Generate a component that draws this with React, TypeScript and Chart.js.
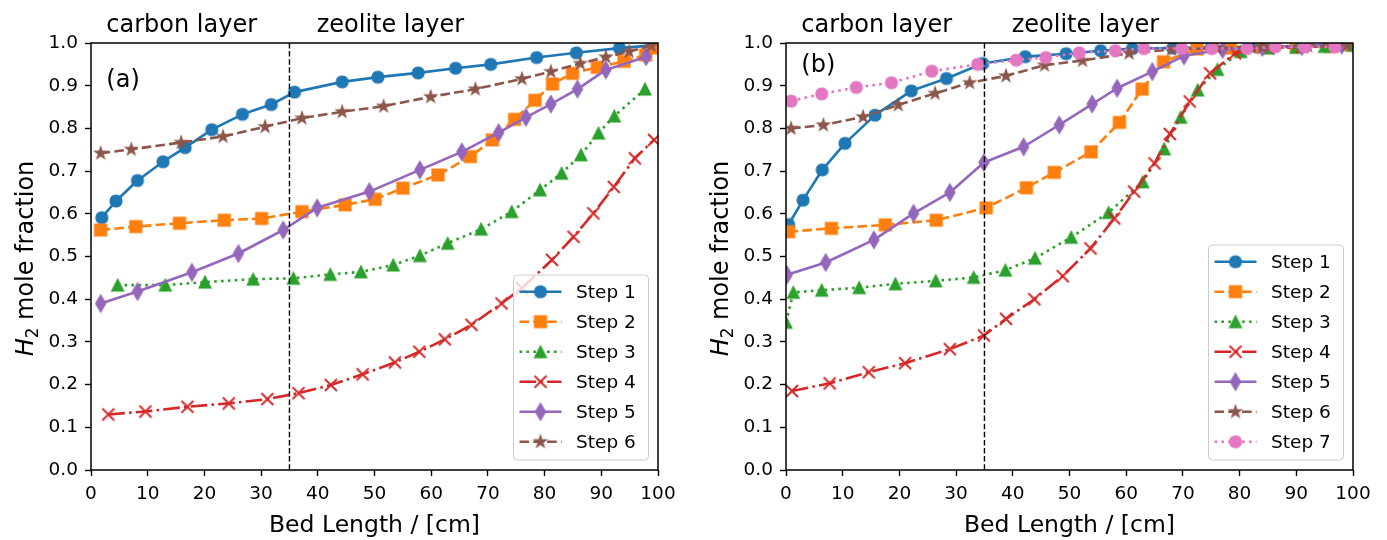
import React, { useEffect, useRef } from 'react';
import { Chart, registerables } from 'chart.js';

Chart.register(...registerables);

const FONT = '"DejaVu Sans", "Liberation Sans", sans-serif';
const COLORS = ['#1f77b4', '#ff7f0e', '#2ca02c', '#d62728', '#9467bd', '#8c564b', '#e377c2'];
const LABELS = ['Step 1', 'Step 2', 'Step 3', 'Step 4', 'Step 5', 'Step 6', 'Step 7'];
const MARKERS = ['circle', 'square', 'triangle', 'x', 'thinDiamond', 'star', 'circle'];
const DASHES: number[][] = [[], [9.6, 4.2], [2.6, 4.3], [16.6, 4.2, 2.6, 4.2], [], [9.6, 4.2], [2.6, 4.3]];
const X_TICKS = [0, 10, 20, 30, 40, 50, 60, 70, 80, 90, 100];
const Y_TICKS = [0, 0.1, 0.2, 0.3, 0.4, 0.5, 0.6, 0.7, 0.8, 0.9, 1.0];
const LAYER_BOUNDARY = 35;
const MS = 12;
const LW = 2.6;
const TEXT_SIZE = 24;
const TICK_SIZE = 18.5;

// ---------- Panel (a) ----------
const a1x = [1.9, 4.4, 8.2, 12.7, 16.6, 21.3, 26.7, 31.8, 35.9, 44.3, 50.6, 57.7, 64.3, 70.5, 78.6, 85.6, 93.2, 99.6];
const a1y = [0.591, 0.63, 0.678, 0.722, 0.755, 0.797, 0.833, 0.856, 0.885, 0.909, 0.92, 0.93, 0.941, 0.95, 0.966, 0.977, 0.988, 0.995];
const a2x = [1.7, 7.9, 15.6, 23.5, 30.1, 37.2, 44.8, 50.1, 55.0, 61.2, 66.9, 70.8, 74.7, 78.3, 81.4, 84.9, 89.3, 94.0, 97.8, 99.7];
const a2y = [0.562, 0.57, 0.578, 0.585, 0.589, 0.605, 0.621, 0.634, 0.66, 0.691, 0.734, 0.773, 0.821, 0.866, 0.904, 0.929, 0.943, 0.957, 0.972, 0.988];
const a3x = [4.7, 13.1, 20.1, 28.6, 35.7, 42.2, 47.6, 53.3, 58.0, 62.9, 68.8, 74.2, 79.2, 83.0, 86.4, 89.5, 92.3, 97.7];
const a3y = [0.433, 0.433, 0.44, 0.447, 0.449, 0.458, 0.464, 0.48, 0.502, 0.531, 0.564, 0.605, 0.656, 0.695, 0.738, 0.789, 0.829, 0.892];
const a4x = [3.05, 9.6, 17.0, 24.3, 31.1, 36.6, 42.3, 47.9, 53.6, 57.9, 62.4, 67.1, 72.4, 76.0, 81.3, 85.1, 88.6, 92.2, 95.9, 99.3];
const a4y = [0.13, 0.137, 0.148, 0.156, 0.166, 0.18, 0.199, 0.224, 0.252, 0.277, 0.306, 0.34, 0.39, 0.426, 0.492, 0.546, 0.601, 0.663, 0.73, 0.773];
const a5x = [1.7, 8.2, 17.8, 26.0, 33.9, 39.9, 49.1, 58.0, 65.4, 71.9, 76.7, 81.1, 85.8, 90.8, 97.9];
const a5y = [0.39, 0.418, 0.463, 0.507, 0.562, 0.614, 0.652, 0.703, 0.745, 0.79, 0.826, 0.857, 0.892, 0.937, 0.968];
const a6x = [1.7, 7.1, 15.9, 23.3, 30.7, 37.2, 44.3, 51.6, 59.9, 67.8, 76.0, 81.1, 86.3, 90.8, 94.9, 98.8];
const a6y = [0.742, 0.751, 0.767, 0.781, 0.804, 0.824, 0.839, 0.852, 0.874, 0.892, 0.916, 0.933, 0.952, 0.967, 0.98, 0.994];

// ---------- Panel (b) ----------
const b1x = [0.46, 3.0, 6.4, 10.4, 15.7, 22.1, 28.3, 34.7, 42.2, 49.4, 55.5, 61.1, 68.2, 75.0, 83.0, 90.0, 97.0];
const b1y = [0.575, 0.632, 0.703, 0.765, 0.831, 0.888, 0.917, 0.952, 0.968, 0.975, 0.982, 0.987, 0.988, 0.99, 0.991, 0.993, 0.995];
const b2x = [0.46, 8.0, 17.5, 26.5, 35.3, 42.4, 47.3, 53.8, 58.8, 62.8, 66.6, 72.5, 78.4, 84.0, 90.0, 96.0, 99.7];
const b2y = [0.558, 0.566, 0.574, 0.585, 0.614, 0.661, 0.697, 0.745, 0.814, 0.892, 0.956, 0.986, 0.988, 0.99, 0.991, 0.992, 0.995];
const b3x = [0.0, 1.3, 6.3, 12.9, 19.3, 26.4, 33.1, 38.7, 43.9, 50.3, 56.9, 62.9, 66.7, 69.6, 72.6, 76.1, 80.2, 85.0, 90.0, 95.0, 100.0];
const b3y = [0.346, 0.416, 0.421, 0.427, 0.436, 0.443, 0.451, 0.468, 0.496, 0.545, 0.603, 0.675, 0.752, 0.826, 0.89, 0.938, 0.98, 0.988, 0.99, 0.992, 0.995];
const b4x = [1.05, 7.7, 14.6, 21.0, 28.9, 34.9, 38.8, 43.8, 48.8, 53.7, 57.9, 61.4, 65.0, 67.7, 71.2, 74.8, 79.2, 85.0, 91.0, 97.0];
const b4y = [0.185, 0.203, 0.229, 0.25, 0.283, 0.315, 0.354, 0.4, 0.454, 0.519, 0.589, 0.652, 0.718, 0.787, 0.863, 0.929, 0.976, 0.988, 0.991, 0.994];
const b5x = [0.2, 7.0, 15.5, 22.5, 28.9, 34.9, 41.9, 48.2, 54.0, 58.4, 64.6, 70.2, 77.0, 84.0, 91.0, 98.0];
const b5y = [0.457, 0.486, 0.539, 0.601, 0.65, 0.72, 0.757, 0.808, 0.857, 0.894, 0.933, 0.97, 0.985, 0.99, 0.992, 0.995];
const b6x = [0.9, 6.6, 13.6, 19.8, 26.3, 32.4, 38.8, 45.6, 52.3, 60.5, 68.0, 76.0, 84.0, 92.0, 99.0];
const b6y = [0.8, 0.808, 0.827, 0.855, 0.882, 0.907, 0.923, 0.948, 0.959, 0.976, 0.985, 0.988, 0.991, 0.993, 0.995];
const b7x = [0.9, 6.3, 12.4, 18.6, 25.7, 33.8, 40.6, 45.8, 51.7, 58.1, 63.1, 69.8, 75.1, 81.3, 86.3, 91.5, 96.8];
const b7y = [0.864, 0.881, 0.896, 0.907, 0.934, 0.95, 0.96, 0.966, 0.977, 0.982, 0.987, 0.987, 0.987, 0.987, 0.991, 0.991, 0.991];

const SERIES_A = [[a1x, a1y], [a2x, a2y], [a3x, a3y], [a4x, a4y], [a5x, a5y], [a6x, a6y]];
const SERIES_B = [[b1x, b1y], [b2x, b2y], [b3x, b3y], [b4x, b4y], [b5x, b5y], [b6x, b6y], [b7x, b7y]];

function makeMarker(shape: string, color: string): HTMLCanvasElement {
  const size = 26;
  const cv = document.createElement('canvas');
  cv.width = size;
  cv.height = size;
  const ctx = cv.getContext('2d')!;
  const c = size / 2;
  const h = MS / 2;
  ctx.fillStyle = color;
  ctx.strokeStyle = color;
  ctx.lineWidth = 1.2;
  ctx.lineJoin = 'miter';
  ctx.beginPath();
  if (shape === 'circle') {
    ctx.arc(c, c, h, 0, Math.PI * 2);
  } else if (shape === 'square') {
    ctx.rect(c - h, c - h, MS, MS);
  } else if (shape === 'triangle') {
    ctx.moveTo(c, c - h);
    ctx.lineTo(c + h, c + h);
    ctx.lineTo(c - h, c + h);
    ctx.closePath();
  } else if (shape === 'thinDiamond') {
    const dh = MS * 0.7071;
    const dw = dh * 0.6;
    ctx.moveTo(c, c - dh);
    ctx.lineTo(c + dw, c);
    ctx.lineTo(c, c + dh);
    ctx.lineTo(c - dw, c);
    ctx.closePath();
  } else if (shape === 'star') {
    const R = h * 1.05;
    const r = R * 0.381966;
    for (let k = 0; k < 10; k++) {
      const rad = k % 2 === 0 ? R : r;
      const ang = -Math.PI / 2 + (k * Math.PI) / 5;
      const px = c + rad * Math.cos(ang);
      const py = c + rad * Math.sin(ang);
      if (k === 0) ctx.moveTo(px, py);
      else ctx.lineTo(px, py);
    }
    ctx.closePath();
  } else if (shape === 'x') {
    ctx.lineWidth = 1.9;
    ctx.moveTo(c - h, c - h);
    ctx.lineTo(c + h, c + h);
    ctx.moveTo(c - h, c + h);
    ctx.lineTo(c + h, c - h);
    ctx.stroke();
    return cv;
  }
  ctx.fill();
  ctx.stroke();
  return cv;
}

type PanelCfg = {
  series: number[][][];
  tag: string;
  tagY: number;
  canvasLeft: number;
  canvasWidth: number;
  axisWidth: number;
  rightPad: number;
  ylabelX: number;
};

function drawYLabel(ctx: CanvasRenderingContext2D, cx: number, cy: number) {
  ctx.save();
  ctx.translate(cx, cy);
  ctx.rotate(-Math.PI / 2);
  const fH = `italic ${TEXT_SIZE}px ${FONT}`;
  const fS = `${TEXT_SIZE * 0.7}px ${FONT}`;
  const fM = `${TEXT_SIZE}px ${FONT}`;
  ctx.font = fH;
  const wH = ctx.measureText('H').width;
  ctx.font = fS;
  const wS = ctx.measureText('2').width;
  ctx.font = fM;
  const wM = ctx.measureText(' mole fraction').width;
  const total = wH + wS + wM;
  let x = -total / 2;
  ctx.textAlign = 'left';
  ctx.textBaseline = 'alphabetic';
  ctx.fillStyle = '#000';
  ctx.font = fH;
  ctx.fillText('H', x, 0);
  x += wH;
  ctx.font = fS;
  ctx.fillText('2', x, 5);
  x += wS;
  ctx.font = fM;
  ctx.fillText(' mole fraction', x, 0);
  ctx.restore();
}

function makeOverlay(cfg: PanelCfg, markers: HTMLCanvasElement[]) {
  return {
    id: 'overlay',
    afterDraw(chart: any) {
      const ctx: CanvasRenderingContext2D = chart.ctx;
      const area = chart.chartArea;
      const xs = chart.scales.x;
      const ys = chart.scales.y;
      ctx.save();
      // vertical boundary
      const vx = xs.getPixelForValue(LAYER_BOUNDARY);
      ctx.strokeStyle = '#000';
      ctx.lineWidth = 1.4;
      ctx.setLineDash([5.5, 2.6]);
      ctx.beginPath();
      ctx.moveTo(vx, area.top);
      ctx.lineTo(vx, area.bottom);
      ctx.stroke();
      ctx.setLineDash([]);
      // frame
      ctx.lineWidth = 1.5;
      ctx.strokeRect(area.left, area.top, area.right - area.left, area.bottom - area.top);
      // annotations
      ctx.fillStyle = '#000';
      ctx.font = `${TEXT_SIZE}px ${FONT}`;
      ctx.textAlign = 'left';
      ctx.textBaseline = 'alphabetic';
      ctx.fillText('carbon layer', xs.getPixelForValue(2.7), area.top - 11.5);
      ctx.fillText('zeolite layer', xs.getPixelForValue(39.8), area.top - 11.5);
      ctx.fillText(cfg.tag, xs.getPixelForValue(2.7), ys.getPixelForValue(cfg.tagY));
      // x label
      ctx.textAlign = 'center';
      ctx.font = `23.5px ${FONT}`;
      ctx.fillText('Bed Length / [cm]', (area.left + area.right) / 2, 532);
      // y label
      drawYLabel(ctx, cfg.ylabelX, (area.top + area.bottom) / 2 + 2);
      // legend
      const n = cfg.series.length;
      const right = area.right - 9.5;
      const bottom = area.bottom - 10;
      const height = 5 + 30 * n;
      const width = 135;
      const left = right - width;
      const top = bottom - height;
      ctx.beginPath();
      (ctx as any).roundRect(left, top, width, height, 4);
      ctx.fillStyle = 'rgba(255,255,255,0.8)';
      ctx.fill();
      ctx.strokeStyle = '#cccccc';
      ctx.lineWidth = 1;
      ctx.stroke();
      for (let i = 0; i < n; i++) {
        const cy = top + 16.7 + 30 * i;
        ctx.strokeStyle = COLORS[i];
        ctx.lineWidth = LW;
        ctx.setLineDash(DASHES[i]);
        ctx.beginPath();
        ctx.moveTo(left + 6, cy);
        ctx.lineTo(left + 48, cy);
        ctx.stroke();
        ctx.setLineDash([]);
        const m = markers[i];
        ctx.drawImage(m, left + 27 - m.width / 2, cy - m.height / 2);
        ctx.fillStyle = '#000';
        ctx.font = `${TICK_SIZE}px ${FONT}`;
        ctx.textAlign = 'left';
        ctx.textBaseline = 'middle';
        ctx.fillText(LABELS[i], left + 62.5, cy + 1);
      }
      ctx.restore();
    },
  };
}

function Panel({ cfg }: { cfg: PanelCfg }) {
  const ref = useRef<HTMLCanvasElement | null>(null);
  useEffect(() => {
    const markers = cfg.series.map((_, i) => makeMarker(MARKERS[i], COLORS[i]));
    const n = cfg.series.length;
    const datasets = cfg.series.map(([xs, ys], i) => ({
      label: LABELS[i],
      data: xs.map((x, j) => ({ x, y: ys[j] })),
      borderColor: COLORS[i],
      backgroundColor: COLORS[i],
      borderWidth: LW,
      borderDash: DASHES[i],
      borderCapStyle: 'butt',
      borderJoinStyle: 'round',
      pointStyle: markers[i],
      pointRadius: 5,
      pointHoverRadius: 5,
      tension: 0,
      fill: false,
      order: n - i,
    }));
    const tickGrid = {
      display: true,
      drawOnChartArea: false,
      drawTicks: true,
      tickLength: 6,
      tickWidth: 1.4,
      tickColor: '#000',
    };
    const chart = new Chart(ref.current!, {
      type: 'line',
      data: { datasets } as any,
      options: {
        responsive: false,
        animation: false,
        events: [],
        layout: { padding: { left: 0, right: cfg.rightPad, top: 43, bottom: 0 } },
        plugins: {
          legend: { display: false },
          tooltip: { enabled: false },
          title: { display: false },
        },
        scales: {
          x: {
            type: 'linear',
            min: 0,
            max: 100,
            afterBuildTicks: (axis: any) => {
              axis.ticks = X_TICKS.map((v) => ({ value: v }));
            },
            grid: tickGrid,
            border: { display: false },
            ticks: {
              font: { family: FONT, size: TICK_SIZE },
              color: '#000',
              padding: 7,
              maxRotation: 0,
              autoSkip: false,
              callback: (v: any) => String(v),
            },
            afterFit: (s: any) => {
              s.height = 70;
            },
          },
          y: {
            type: 'linear',
            min: 0,
            max: 1,
            afterBuildTicks: (axis: any) => {
              axis.ticks = Y_TICKS.map((v) => ({ value: v }));
            },
            grid: tickGrid,
            border: { display: false },
            ticks: {
              font: { family: FONT, size: TICK_SIZE },
              color: '#000',
              padding: 7,
              autoSkip: false,
              callback: (v: any) => Number(v).toFixed(1),
            },
            afterFit: (s: any) => {
              s.width = cfg.axisWidth;
            },
          },
        },
      } as any,
      plugins: [makeOverlay(cfg, markers)],
    });
    return () => chart.destroy();
  }, []);
  return (
    <canvas
      ref={ref}
      width={cfg.canvasWidth}
      height={540}
      style={{ position: 'absolute', left: cfg.canvasLeft, top: 0, width: cfg.canvasWidth, height: 540 }}
    />
  );
}

const PANEL_A: PanelCfg = {
  series: SERIES_A,
  tag: '(a)',
  tagY: 0.898,
  canvasLeft: 0,
  canvasWidth: 693,
  axisWidth: 91,
  rightPad: 35,
  ylabelX: 33,
};

const PANEL_B: PanelCfg = {
  series: SERIES_B,
  tag: '(b)',
  tagY: 0.932,
  canvasLeft: 693,
  canvasWidth: 694,
  axisWidth: 93,
  rightPad: 34,
  ylabelX: 35,
};

export default function App() {
  return (
    <div style={{ position: 'absolute', left: 0, top: 0, width: 1387, height: 540, background: '#fff' }}>
      <Panel cfg={PANEL_A} />
      <Panel cfg={PANEL_B} />
    </div>
  );
}
